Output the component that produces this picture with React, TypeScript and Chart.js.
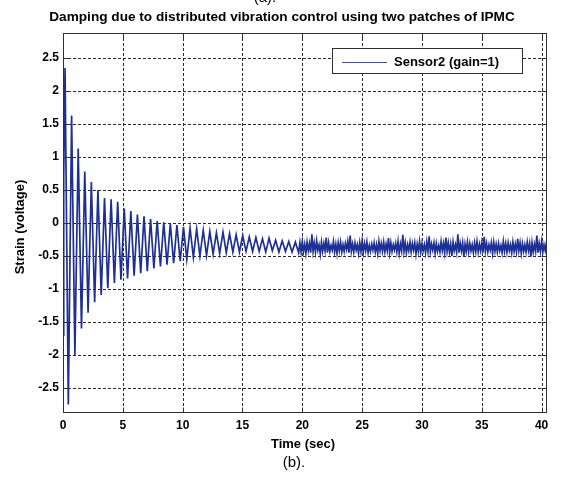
import React, { useEffect, useRef } from 'react';
import { Chart, registerables } from 'chart.js';

Chart.register(...registerables);

const TITLE = 'Damping due to distributed vibration control using two patches of IPMC';
const X_LABEL = 'Time (sec)';
const Y_LABEL = 'Strain (voltage)';
const SERIES_NAME = 'Sensor2 (gain=1)';
const CAPTION = '(b).';
const TOP_CAPTION = '(a).';

const X_TICKS = [0, 5, 10, 15, 20, 25, 30, 35, 40];
const Y_TICKS = [-2.5, -2, -1.5, -1, -0.5, 0, 0.5, 1, 1.5, 2, 2.5];
const X_MIN = 0;
const X_MAX = 40.45;
const Y_MIN = -2.88;
const Y_MAX = 2.88;

// very start of the record
const START_TIMES = [0, 0.06];
const START_VALUES = [-1.7, 0.7];

// damped oscillation: extrema (peak j, then trough j)
const OSC_T0 = 0.17;
const OSC_HALF_PERIOD = 0.275;
const PEAKS = [
  2.35, 1.63, 1.13, 0.78, 0.62, 0.5, 0.38, 0.36, 0.32, 0.22,
  0.18, 0.13, 0.1, 0.06, 0.03, 0.01, -0.01, -0.03, -0.06, -0.08,
  -0.09, -0.11, -0.13, -0.15, -0.14, -0.16, -0.18, -0.19, -0.21, -0.22,
  -0.24, -0.23, -0.26, -0.27, -0.28, -0.29,
];
const TROUGHS = [
  -2.75, -2.0, -1.6, -1.36, -1.2, -1.09, -0.99, -0.91, -0.86, -0.84,
  -0.8, -0.76, -0.73, -0.69, -0.66, -0.63, -0.61, -0.58, -0.55, -0.52,
  -0.5, -0.49, -0.47, -0.46, -0.45, -0.44, -0.44, -0.43, -0.43, -0.43,
  -0.44, -0.42, -0.44, -0.43, -0.44, -0.45,
];

// residual noise after the oscillation has died out
const NOISE_T0 = 19.8;
const NOISE_DT = 0.1;
const NOISE = [
  -0.30, -0.44, -0.28, -0.43, -0.32, -0.46, -0.29, -0.42, -0.31, -0.45,
  -0.17, -0.43, -0.30, -0.44, -0.27, -0.41, -0.33, -0.47, -0.29, -0.43,
  -0.31, -0.42, -0.22, -0.45, -0.30, -0.43, -0.34, -0.41, -0.28, -0.44,
  -0.32, -0.46, -0.30, -0.42, -0.29, -0.44, -0.33, -0.43, -0.31, -0.40,
  -0.28, -0.45, -0.19, -0.43, -0.32, -0.44, -0.30, -0.41, -0.33, -0.46,
  -0.30, -0.43, -0.27, -0.44, -0.31, -0.42, -0.29, -0.45, -0.34, -0.43,
  -0.32, -0.41, -0.30, -0.44, -0.33, -0.46, -0.28, -0.42, -0.31, -0.43,
  -0.29, -0.44, -0.32, -0.42, -0.23, -0.45, -0.30, -0.43, -0.33, -0.41,
  -0.31, -0.44, -0.28, -0.46, -0.32, -0.42, -0.18, -0.43, -0.30, -0.45,
  -0.33, -0.42, -0.29, -0.44, -0.31, -0.41, -0.30, -0.47, -0.32, -0.43,
  -0.28, -0.44, -0.31, -0.42, -0.33, -0.45, -0.29, -0.43, -0.20, -0.44,
  -0.32, -0.41, -0.30, -0.46, -0.31, -0.43, -0.34, -0.44, -0.28, -0.42,
  -0.31, -0.45, -0.22, -0.43, -0.30, -0.44, -0.32, -0.50, -0.29, -0.42,
  -0.33, -0.44, -0.17, -0.45, -0.31, -0.42, -0.30, -0.51, -0.32, -0.43,
  -0.29, -0.44, -0.31, -0.42, -0.33, -0.45, -0.30, -0.43, -0.28, -0.44,
  -0.32, -0.42, -0.30, -0.45, -0.21, -0.43, -0.31, -0.44, -0.33, -0.41,
  -0.30, -0.46, -0.29, -0.43, -0.32, -0.44, -0.31, -0.42, -0.34, -0.45,
  -0.28, -0.43, -0.31, -0.44, -0.30, -0.42, -0.33, -0.45, -0.29, -0.43,
  -0.32, -0.44, -0.24, -0.42, -0.30, -0.46, -0.31, -0.43, -0.33, -0.44,
  -0.29, -0.42, -0.31, -0.51, -0.30, -0.44, -0.32, -0.43, -0.19, -0.45,
  -0.31, -0.43, -0.28, -0.44, -0.33, -0.42, -0.30, -0.45, -0.32, -0.43,
];

const LINE_COLOR = '#1e2f96';
const LEGEND_LINE_COLOR = '#3a52b8';
const GRID_COLOR = '#2a2a2a';
const FRAME_COLOR = '#303030';
const FONT = '"Liberation Sans", Arial, Helvetica, sans-serif';

function buildPoints() {
  const pts: { x: number; y: number }[] = [];
  START_TIMES.forEach((t, i) => pts.push({ x: t, y: START_VALUES[i] }));
  PEAKS.forEach((p, j) => {
    pts.push({ x: OSC_T0 + 2 * j * OSC_HALF_PERIOD, y: p });
    pts.push({ x: OSC_T0 + (2 * j + 1) * OSC_HALF_PERIOD, y: TROUGHS[j] });
  });
  NOISE.forEach((v, i) => pts.push({ x: NOISE_T0 + i * NOISE_DT, y: v }));
  return pts;
}

const decorPlugin = {
  id: 'decor',
  beforeDatasetsDraw(chart: any) {
    const { ctx, chartArea: a, scales } = chart;
    ctx.save();
    ctx.strokeStyle = GRID_COLOR;
    ctx.lineWidth = 1;
    ctx.setLineDash([3, 2]);
    X_TICKS.forEach((v) => {
      const x = Math.round(scales.x.getPixelForValue(v)) + 0.5;
      if (x <= a.left + 1 || x >= a.right - 1) return;
      ctx.beginPath();
      ctx.moveTo(x, a.top);
      ctx.lineTo(x, a.bottom);
      ctx.stroke();
    });
    Y_TICKS.forEach((v) => {
      const y = Math.round(scales.y.getPixelForValue(v)) + 0.5;
      ctx.beginPath();
      ctx.moveTo(a.left, y);
      ctx.lineTo(a.right, y);
      ctx.stroke();
    });
    ctx.restore();
  },
  afterDatasetsDraw(chart: any) {
    const { ctx, chartArea: a, scales } = chart;
    ctx.save();
    // frame
    ctx.strokeStyle = FRAME_COLOR;
    ctx.lineWidth = 1;
    ctx.setLineDash([]);
    const L = Math.round(a.left) + 0.5;
    const R = Math.round(a.right) - 0.5;
    const T = Math.round(a.top) + 0.5;
    const B = Math.round(a.bottom) - 0.5;
    ctx.strokeRect(L, T, R - L, B - T);
    // inward ticks
    const TL = 5;
    ctx.beginPath();
    X_TICKS.forEach((v) => {
      const x = Math.round(scales.x.getPixelForValue(v)) + 0.5;
      ctx.moveTo(x, B);
      ctx.lineTo(x, B - TL);
      ctx.moveTo(x, T);
      ctx.lineTo(x, T + TL);
    });
    Y_TICKS.forEach((v) => {
      const y = Math.round(scales.y.getPixelForValue(v)) + 0.5;
      ctx.moveTo(L, y);
      ctx.lineTo(L + TL, y);
      ctx.moveTo(R, y);
      ctx.lineTo(R - TL, y);
    });
    ctx.stroke();

    // legend
    const lx = 332.5, ly = 48.5, lw = 190, lh = 25;
    ctx.fillStyle = '#ffffff';
    ctx.fillRect(lx, ly, lw, lh);
    ctx.strokeStyle = FRAME_COLOR;
    ctx.strokeRect(lx, ly, lw, lh);
    ctx.strokeStyle = LEGEND_LINE_COLOR;
    ctx.beginPath();
    ctx.moveTo(342, 62.5);
    ctx.lineTo(387, 62.5);
    ctx.stroke();
    ctx.fillStyle = '#000';
    ctx.font = `bold 13px ${FONT}`;
    ctx.textAlign = 'left';
    ctx.textBaseline = 'middle';
    ctx.fillText(SERIES_NAME, 394, 62);

    // title
    ctx.font = `bold 12px ${FONT}`;
    const w = ctx.measureText(TITLE).width;
    const size = (12 * 466) / w;
    ctx.font = `bold ${size.toFixed(2)}px ${FONT}`;
    ctx.textAlign = 'center';
    ctx.textBaseline = 'middle';
    ctx.fillText(TITLE, 282, 17);

    // top caption (cut off)
    ctx.font = `15px ${FONT}`;
    ctx.textBaseline = 'alphabetic';
    ctx.fillText(TOP_CAPTION, 265, 2);

    // x label
    ctx.font = `bold 13px ${FONT}`;
    ctx.textBaseline = 'middle';
    ctx.fillText(X_LABEL, 303, 444);

    // caption
    ctx.font = `15px ${FONT}`;
    ctx.fillText(CAPTION, 294, 463);

    // y label
    ctx.save();
    ctx.translate(20, 227);
    ctx.rotate(-Math.PI / 2);
    ctx.font = `bold 13px ${FONT}`;
    ctx.fillText(Y_LABEL, 0, 0);
    ctx.restore();

    ctx.restore();
  },
};

export default function App() {
  const ref = useRef<HTMLCanvasElement>(null);
  useEffect(() => {
    const canvas = ref.current;
    if (!canvas) return;
    const tickFont = { family: FONT, size: 12, weight: 'bold' as const };
    const chart = new Chart(canvas, {
      type: 'line',
      data: {
        datasets: [
          {
            label: SERIES_NAME,
            data: buildPoints(),
            borderColor: LINE_COLOR,
            borderWidth: 1.7,
            pointRadius: 0,
            fill: false,
            tension: 0,
          },
        ],
      },
      options: {
        animation: false,
        responsive: false,
        devicePixelRatio: 1,
        events: [],
        layout: { padding: { left: 0, right: 17, top: 33, bottom: 0 } },
        plugins: {
          legend: { display: false },
          tooltip: { enabled: false },
          title: { display: false },
        },
        scales: {
          x: {
            type: 'linear',
            min: X_MIN,
            max: X_MAX,
            afterBuildTicks: (s: any) => {
              s.ticks = X_TICKS.map((v) => ({ value: v }));
            },
            afterFit: (s: any) => {
              s.height = 70;
            },
            grid: { display: false, drawTicks: false },
            border: { display: false },
            ticks: {
              font: tickFont,
              color: '#000',
              padding: 5,
              maxRotation: 0,
              autoSkip: false,
              callback: (v: any) => String(v),
            },
          },
          y: {
            type: 'linear',
            min: Y_MIN,
            max: Y_MAX,
            afterBuildTicks: (s: any) => {
              s.ticks = Y_TICKS.map((v) => ({ value: v }));
            },
            afterFit: (s: any) => {
              s.width = 63;
            },
            grid: { display: false, drawTicks: false },
            border: { display: false },
            ticks: {
              font: tickFont,
              color: '#000',
              padding: 4,
              autoSkip: false,
              callback: (v: any) => String(v),
            },
          },
        },
      },
      plugins: [decorPlugin],
    });
    return () => chart.destroy();
  }, []);
  return (
    <div style={{ position: 'absolute', left: 0, top: 0, width: 564, height: 483, background: '#fff' }}>
      <canvas ref={ref} width={564} height={483} style={{ display: 'block' }} />
    </div>
  );
}
